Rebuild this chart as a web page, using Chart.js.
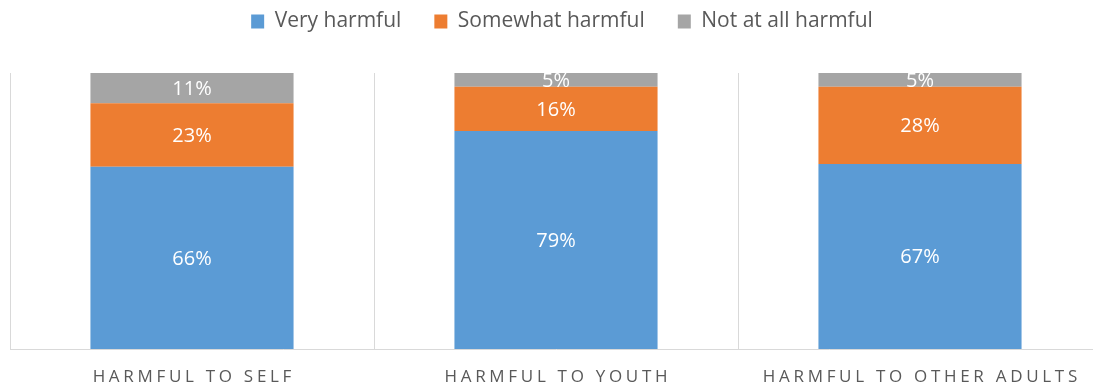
<!DOCTYPE html>
<html>
<head>
<meta charset="utf-8">
<script src="https://cdn.jsdelivr.net/npm/chart.js@4/dist/chart.umd.min.js"></script>
<style>
  html, body { margin: 0; padding: 0; background: #fff; overflow: hidden; }
  #wrap { width: 1103px; height: 387px; position: relative; }
</style>
</head>
<body>
<div id="wrap"><canvas id="harmChart"></canvas></div>
<script>
const categories = ['HARMFUL TO SELF', 'HARMFUL TO YOUTH', 'HARMFUL TO OTHER ADULTS'];
const seriesNames = ['Very harmful', 'Somewhat harmful', 'Not at all harmful'];
const veryHarmful = [66, 79, 67];
const somewhatHarmful = [23, 16, 28];
const notAtAllHarmful = [11, 5, 5];

const FONT = "'Open Sans', sans-serif";
const TEXT_GREY = '#595959';
const GRID_GREY = '#d9d9d9';

// pull the legend up and keep the plot top fixed
const legendShift = {
    id: 'legendShift',
    beforeInit(chart) {
        const fit = chart.legend.fit;
        chart.legend.fit = function () {
            fit.call(this);
            this.height = 73;
        };
    },
    afterLayout(chart) {
        const lg = chart.legend;
        lg.top -= 22;
        lg.bottom -= 22;
        lg.left += 6;
        lg.right += 6;
    }
};

// white percentage text inside each segment
const segmentLabels = {
    id: 'segmentLabels',
    afterDatasetsDraw(chart) {
        const ctx = chart.ctx;
        const area = chart.chartArea;
        ctx.save();
        ctx.beginPath();
        ctx.rect(area.left, area.top, area.right - area.left, area.bottom - area.top);
        ctx.clip();
        ctx.font = '20px ' + FONT;
        ctx.fillStyle = '#ffffff';
        ctx.textAlign = 'center';
        ctx.textBaseline = 'middle';
        chart.data.datasets.forEach((ds, i) => {
            chart.getDatasetMeta(i).data.forEach((bar, j) => {
                const cy = (bar.y + bar.base) / 2 + 1;
                ctx.fillText(ds.data[j] + '%', bar.x, cy);
            });
        });
        ctx.restore();
    }
};

// spaced-out category names under the axis
const categoryLabels = {
    id: 'categoryLabels',
    afterDraw(chart) {
        const ctx = chart.ctx;
        const xs = chart.scales.x;
        const spacing = 3.7;
        ctx.save();
        ctx.font = '17px ' + FONT;
        ctx.letterSpacing = spacing + 'px';
        ctx.fillStyle = TEXT_GREY;
        ctx.textAlign = 'center';
        ctx.textBaseline = 'alphabetic';
        categories.forEach((c, i) => {
            ctx.fillText(c, xs.getPixelForValue(i) + spacing / 2, 382);
        });
        ctx.restore();
    }
};

const colors = ['#5b9bd5', '#ed7d31', '#a5a5a5'];
const values = [veryHarmful, somewhatHarmful, notAtAllHarmful];

new Chart(document.getElementById('harmChart'), {
    type: 'bar',
    data: {
        labels: categories,
        datasets: seriesNames.map((name, i) => ({
            label: name,
            data: values[i],
            backgroundColor: colors[i],
            borderWidth: 0,
            categoryPercentage: 1,
            barPercentage: 0.558
        }))
    },
    options: {
        responsive: true,
        maintainAspectRatio: false,
        animation: false,
        layout: { padding: { left: 10, right: 1, top: 0, bottom: 38 } },
        plugins: {
            legend: {
                position: 'top',
                labels: {
                    font: { family: FONT, size: 21 },
                    color: TEXT_GREY,
                    boxWidth: 13,
                    boxHeight: 14,
                    padding: 33
                }
            },
            tooltip: { enabled: false }
        },
        scales: {
            x: {
                stacked: true,
                grid: { color: GRID_GREY, lineWidth: 1, drawTicks: false, offset: true },
                border: { color: GRID_GREY, width: 1 },
                ticks: { display: false }
            },
            y: {
                stacked: true,
                display: false,
                min: 0,
                max: 100
            }
        }
    },
    plugins: [legendShift, segmentLabels, categoryLabels]
});
</script>
</body>
</html>
